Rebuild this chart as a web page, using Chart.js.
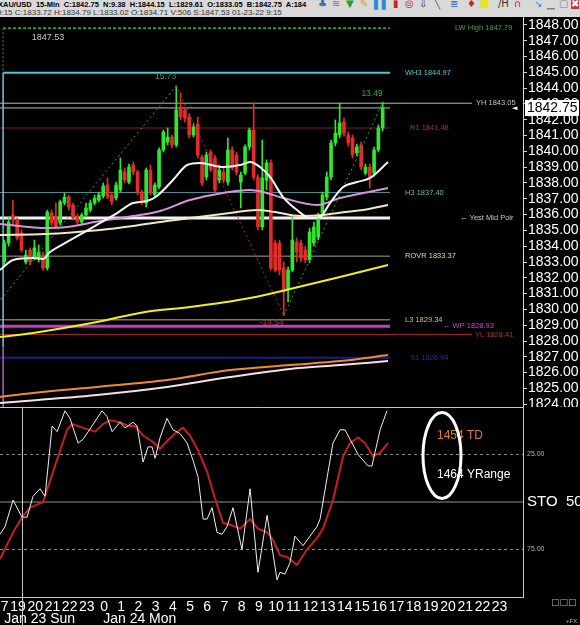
<!DOCTYPE html>
<html>
<head>
<meta charset="utf-8">
<script src="https://cdn.jsdelivr.net/npm/chart.js@4.4.1/dist/chart.umd.min.js"></script>
<style>
  html, body { margin: 0; padding: 0; background: #000; }
  body { width: 580px; height: 625px; overflow: hidden; position: relative; }
  #head { position: absolute; left: 0; top: 0; width: 580px; height: 17px; background: #d9d9d9; overflow: hidden; }
  #line1 { position: absolute; left: -2px; top: 0; font: bold 7.5px "Liberation Sans"; line-height: 9px; color: #000; white-space: nowrap; }
  #line2 { position: absolute; left: -3px; top: 9px; font: 8px "Liberation Sans"; line-height: 8px; color: #333; white-space: nowrap; }
  .ic { position: absolute; top: -2px; font: 10px "DejaVu Sans"; line-height: 11px; }
  #priceChart { position: absolute; left: 0; top: 17px; }
  #stoChart { position: absolute; left: 0; top: 407px; }
</style>
</head>
<body>
<div id="head">
  <div id="line1">XAU/USD&nbsp; 15-Min&nbsp; C:1842.75&nbsp; N:9.38&nbsp; H:1844.15&nbsp; L:1829.61&nbsp; O:1833.05&nbsp; B:1842.75&nbsp; A:184</div>
  <div id="line2">9:15 C:1833.72 H:1834.79 L:1833.02 O:1834.71 V:506 S:1847.53 01-23-22 9:15</div>
  <span class="ic" style="left:318px;color:#3a6ea5">&#9827;</span>
  <span class="ic" style="left:332px;color:#d04080">&#8779;</span>
  <span class="ic" style="left:346px;color:#2a9a2a">&#9660;</span>
  <span class="ic" style="left:360px;color:#e0a020">&#9998;</span>
  <span class="ic" style="left:374px;color:#2a8ad0">&#9612;&#9612;</span>
  <span class="ic" style="left:393px;color:#d02020">&#9646;</span>
  <span class="ic" style="left:405px;color:#c02020">&#9678;</span>
  <span class="ic" style="left:419px;color:#404040">&#8681;</span>
  <span class="ic" style="left:434px;color:#606060">&#9586;</span>
  <span class="ic" style="left:450px;color:#3060c0">&#8803;</span>
  <span class="ic" style="left:467px;color:#d02020">&#9830;</span>
  <span class="ic" style="left:480px;color:#e8e800">&#9632;</span>
  <span class="ic" style="left:498px;color:#303030">/H</span>
  <span class="ic" style="left:514px;color:#c02020">&#8745;</span>
  <span class="ic" style="left:534px;color:#3080d0">&#8600;</span>
  <span class="ic" style="left:547px;color:#808080">&#9601;</span>
  <span class="ic" style="left:559px;color:#808080">&#9634;</span>
  <span class="ic" style="left:571px;color:#fff;background:#d03030">&#10006;</span>
</div>
<canvas id="priceChart" width="580" height="390"></canvas>
<canvas id="stoChart" width="580" height="218"></canvas>
<script>
Chart.defaults.font.family = '"Liberation Sans", Arial, sans-serif';
Chart.defaults.color = '#ffffff';

// XAU/USD 15-min bars, Sun Jan 23 18:15 .. Mon Jan 24 16:15
var candleOpen = [1833.00,1834.20,1835.97,1835.66,1834.84,1833.00,1833.76,1833.25,1833.25,1833.44,
  1832.62,1836.10,1835.85,1835.47,1836.73,1837.11,1836.61,1835.85,1835.53,1835.97,
  1836.29,1836.73,1836.92,1837.18,1837.87,1837.24,1837.05,1837.56,1838.70,1838.06,
  1839.14,1838.70,1837.43,1836.73,1838.82,1837.24,1837.75,1840.09,1840.59,1840.91,
  1840.41,1842.81,1842.62,1842.18,1841.04,1841.73,1839.65,1838.38,1839.96,1839.58,
  1838.19,1838.70,1838.06,1840.09,1839.77,1838.06,1838.63,1840.28,1841.35,1838.38,
  1835.22,1838.19,1839.27,1834.20,1834.20,1832.62,1831.23,1832.49,1834.27,1834.20,
  1833.76,1833.13,1834.20,1834.58,1836.10,1837.11,1838.38,1840.53,1841.04,1841.86,
  1841.04,1840.85,1839.90,1840.41,1838.63,1839.01,1838.63,1840.09,1841.48];
var candleHigh = [1834.39,1835.85,1836.92,1835.78,1835.03,1833.76,1833.89,1834.39,1834.08,1833.63,
  1836.29,1836.29,1836.73,1836.92,1837.37,1837.24,1836.73,1836.04,1836.10,1836.73,
  1836.92,1837.24,1837.43,1838.00,1838.32,1837.43,1838.06,1839.58,1838.95,1839.20,
  1839.33,1838.82,1837.56,1838.95,1839.14,1838.00,1840.22,1841.35,1841.48,1841.04,
  1844.15,1843.70,1842.81,1842.37,1841.73,1842.18,1839.77,1839.96,1840.09,1839.77,
  1839.14,1838.95,1840.85,1840.28,1839.96,1838.70,1840.41,1841.48,1843.06,1838.51,
  1840.72,1839.46,1839.46,1834.39,1834.39,1833.00,1832.68,1835.85,1834.52,1834.39,
  1834.01,1835.15,1835.53,1836.10,1837.43,1838.70,1840.72,1841.99,1843.06,1842.11,
  1841.23,1841.04,1840.47,1840.59,1839.20,1839.20,1840.28,1841.67,1843.10];
var candleLow = [1832.75,1834.01,1835.34,1834.39,1833.63,1832.87,1832.81,1833.13,1833.00,1832.49,
  1832.49,1835.28,1835.09,1835.34,1836.61,1836.29,1835.66,1835.41,1835.41,1835.85,
  1836.16,1836.61,1836.80,1837.05,1836.99,1836.61,1836.92,1837.43,1838.00,1837.94,
  1838.51,1837.24,1836.61,1836.48,1837.24,1837.11,1837.62,1839.96,1840.41,1840.22,
  1840.28,1841.99,1841.86,1840.85,1840.91,1839.58,1837.81,1838.19,1838.70,1837.43,
  1838.00,1838.00,1837.87,1838.82,1838.51,1836.42,1838.51,1840.09,1838.19,1835.03,
  1835.03,1837.56,1832.49,1832.37,1832.18,1829.61,1830.47,1832.37,1833.00,1833.00,
  1832.94,1832.94,1834.01,1834.39,1835.85,1836.92,1838.19,1840.34,1840.85,1840.97,
  1840.34,1839.58,1839.71,1838.82,1838.51,1837.68,1838.44,1839.96,1841.29];
var candleClose = [1834.20,1835.53,1835.66,1834.52,1833.76,1833.44,1833.00,1833.89,1833.63,1832.62,
  1836.16,1835.47,1835.22,1836.80,1837.11,1836.48,1835.78,1835.53,1835.97,1836.42,
  1836.73,1837.05,1837.24,1837.81,1837.11,1836.80,1837.87,1838.82,1838.19,1839.01,
  1838.70,1837.43,1836.80,1838.82,1837.37,1837.87,1840.09,1841.23,1840.91,1840.41,
  1842.62,1842.18,1842.11,1841.04,1841.54,1839.77,1838.00,1839.77,1838.82,1837.56,
  1838.82,1838.19,1840.09,1838.95,1838.70,1838.51,1840.28,1841.35,1838.38,1835.22,
  1838.32,1839.27,1832.62,1832.49,1832.49,1831.10,1832.49,1834.39,1833.63,1833.25,
  1833.13,1834.90,1835.22,1835.85,1837.24,1838.38,1840.53,1841.16,1841.80,1841.16,
  1840.53,1839.77,1840.28,1839.01,1839.01,1838.38,1840.09,1841.48,1842.75];

// hours relative to Mon Jan 24 00:00
var firstBarHour = -5.8;
var barHours = candleOpen.map(function (v, i) { return firstBarHour + i * 0.25; });

// moving averages
var maFastHours = [-6.05,-5.29,-4.13,-3.55,-3.14,-2.15,-1.22,-0.23,0.76,1.69,2.50,3.08,4.01,4.83,5.58,6.92,7.91,8.49,9.07,9.65,10.41,11.22,11.98,12.56,13.14,13.90,14.71,15.47,16.51];
var maFast = [1832.49,1833.13,1833.25,1833.19,1833.63,1834.27,1834.84,1835.47,1836.10,1836.73,1836.86,1837.18,1838.19,1839.14,1839.27,1839.01,1839.14,1839.33,1839.01,1838.38,1837.11,1836.29,1835.78,1835.85,1836.73,1837.75,1838.06,1838.32,1839.33];
var maPinkHours = [-6.05,-3.55,-2.15,-0.23,1.69,3.26,5.0,6.92,8.49,9.24,10.41,12.38,13.72,15.06,16.51];
var maPink = [1835.41,1835.15,1835.22,1835.59,1835.91,1836.23,1836.92,1837.37,1837.56,1837.43,1837.05,1836.61,1837.05,1837.37,1837.68];
var maCreamHours = [-6.05,-3.43,-0.23,1.69,3.66,5.0,7.33,8.90,9.94,11.40,12.73,14.01,15.06,16.51];
var maCream = [1834.71,1834.77,1835.03,1835.28,1835.59,1835.78,1836.10,1836.29,1836.16,1835.91,1835.97,1836.16,1836.29,1836.61];
var maYellowHours = [-6.05,-4.13,-0.41,2.38,5.0,8.49,10.81,13.72,16.51];
var maYellow = [1828.25,1828.51,1829.20,1829.84,1830.15,1830.72,1831.29,1832.05,1832.81];
var maOrangeHours = [-6.05,-4.13,-0.41,3.66,7.33,10.81,13.72,16.51];
var maOrange = [1824.46,1824.71,1825.09,1825.53,1826.16,1826.48,1826.73,1827.11];
var maPaleHours = [-6.05,-0.41,3.66,7.33,10.81,13.72,16.51];
var maPale = [1824.08,1824.58,1825.09,1825.72,1826.23,1826.48,1826.73];

// swing zigzag
var zigHours = [-7.67, 4.2, 10.45, 16.2];
var zigPrices = [1828.42, 1844.15, 1829.61, 1843.10];

// pivot levels
var levelNames = ['LW High','WH3','YH','R1','H3','Yest Mid','ROVR','L3','WP','YL','S1'];
var levelValues = [1847.79,1844.97,1843.05,1841.48,1837.40,1835.78,1833.37,1829.34,1828.93,1828.41,1826.94];
var sessionS = 1847.53;

var priceTicks = [1824,1825,1826,1827,1828,1829,1830,1831,1832,1833,1834,1835,1836,1837,1838,1839,1840,1841,1842,1843,1844,1845,1846,1847,1848];

// stochastic
var stochKHours = [-6.05,-5.76,-5.29,-4.77,-4.48,-4.13,-3.72,-3.43,-3.02,-2.73,-2.27,-1.98,-1.51,-1.22,-0.70,-0.12,0.17,0.47,0.93,1.22,1.69,1.92,2.27,2.56,2.79,2.97,3.26,3.66,4.01,4.42,4.83,5.17,5.47,5.76,5.99,6.28,6.57,6.86,7.15,7.50,8.02,8.49,8.95,9.48,10.06,10.23,10.52,10.81,11.10,11.57,12.38,12.56,13.31,13.72,14.01,14.48,14.77,15.35,15.58,16.05,16.45];
var stochK = [67,63,49,58,58,47,43,47,10,13,2,6,19,17,10,2,5,13,8,11,8,10,29,21,21,27,16,6,12,14,19,28,37,59,59,53,66,67,63,53,75,43,87,57,91,87,88,82,68,73,63,59,19,12,12,20,25,31,31,12,2];
var stochDHours = [-6.05,-5.29,-4.77,-4.30,-3.55,-2.85,-2.15,-1.86,-1.22,-0.52,-0.06,0.35,0.93,1.40,1.80,2.27,2.79,3.26,3.66,4.24,4.59,5.00,5.47,5.99,6.45,6.92,7.33,7.91,8.49,8.95,9.48,9.83,10.23,10.64,11.22,11.80,12.38,12.73,13.31,13.90,14.30,14.77,15.17,15.64,16.05,16.51];
var stochD = [80,66,58,53,50,31,12,9,11,13,9,7,8,10,10,15,18,22,18,13,11,15,23,34,48,61,62,64,59,64,66,70,78,79,83,75,69,64,49,26,19,16,19,26,24,19];
var stoTicks = [25, 75];

// time axis
var xTickHours = [-6,-5,-4,-3,-2,-1,0,1,2,3,4,5,6,7,8,9,10,11,12,13,14,15,16,17,18,19,20,21,22,23];
var xTickLabels = ['17','19','20','21','22','23','0','1','2','3','4','5','6','7','8','9','10','11','12','13','14','15','16','17','18','19','20','21','22','23'];
var dayNames = ['Jan 23 Sun', 'Jan 24 Mon'];
var crossHour = -4.77;
var tdText = ['1454 TD', '1464 YRange'];

// ---- layout ----
var xMin = -6.05, xMax = 24.36;
var priceMin = 1823.823, priceMax = 1848.506;
var lineEnd = 16.63, farEnd = 21.4, edgeHour = -5.87;

var levelLook = {
  'LW High': { color: '#2f9f2f', width: 2, dash: [3, 2], from: edgeHour, to: lineEnd, tx: 455, tc: '#3aa83a' },
  'WH3': { color: '#52c6d6', width: 2, from: edgeHour, to: lineEnd, tx: 405, tc: '#52c6d6' },
  'YH': { color: '#c4b89c', width: 1, from: xMin, to: farEnd, tx: 476, tc: '#cfc3a5' },
  'R1': { color: '#8c1c1c', width: 1, from: xMin, to: lineEnd, tx: 410, tc: '#b03030' },
  'H3': { color: '#4f9294', width: 1, from: xMin, to: lineEnd, tx: 405, tc: '#6ab0b0' },
  'Yest Mid': { color: '#f2f2f2', width: 3, from: xMin, to: lineEnd, tx: 460, tc: '#c8c8c8', text: '\u2190 Yest Mid Poir' },
  'ROVR': { color: '#a8a48c', width: 1, from: xMin, to: lineEnd, tx: 405, tc: '#e0d8a8' },
  'L3': { color: '#c8aa8a', width: 1, from: xMin, to: lineEnd, tx: 405, tc: '#d4b896' },
  'WP': { color: '#c43cc4', width: 3, from: xMin, to: lineEnd, tx: 443, tc: '#c84ac8', prefix: '\u2190 ' },
  'YL': { color: '#a02828', width: 1, from: xMin, to: farEnd, tx: 475, tc: '#b83232' },
  'S1': { color: '#1c1c8a', width: 2, from: xMin, to: lineEnd, tx: 410, tc: '#2a2aa8' }
};

function pts(hours, vals) {
  return hours.map(function (h, i) { return { x: h, y: vals[i] }; });
}
function maSet(hours, vals, color, order) {
  return { type: 'line', data: pts(hours, vals), borderColor: color, borderWidth: 2, pointRadius: 0,
    tension: 0.4, cubicInterpolationMode: 'monotone', order: order };
}

var lastClose = candleClose[candleClose.length - 1];
var upColor = '#2ee82e', downColor = '#e32b2b';
var candleColors = candleOpen.map(function (o, i) { return candleClose[i] >= o ? upColor : downColor; });

var priceSets = [];
levelNames.forEach(function (name, i) {
  var look = levelLook[name];
  priceSets.push({ type: 'line', data: [{ x: look.from, y: levelValues[i] }, { x: look.to, y: levelValues[i] }],
    borderColor: look.color, borderWidth: look.width, borderDash: look.dash || [], pointRadius: 0, order: 20 });
});
priceSets.push({ type: 'line', data: [{ x: xMin, y: lastClose }, { x: lineEnd, y: lastClose }],
  borderColor: '#bdbdbd', borderWidth: 1, pointRadius: 0, order: 20 });
// left edge of the level boxes
priceSets.push({ type: 'line', data: [{ x: edgeHour, y: levelValues[0] }, { x: edgeHour, y: levelValues[1] }],
  borderColor: '#2f9f2f', borderWidth: 1, borderDash: [2, 2], pointRadius: 0, order: 19 });
priceSets.push({ type: 'line', data: [{ x: edgeHour, y: levelValues[1] }, { x: edgeHour, y: 1827.6 }],
  borderColor: '#6cc8e0', borderWidth: 1.5, pointRadius: 0, order: 19 });
priceSets.push({ type: 'line', data: [{ x: edgeHour, y: 1827.6 }, { x: edgeHour, y: priceMin }],
  borderColor: '#b060c8', borderWidth: 1.5, pointRadius: 0, order: 19 });
// candles: wick + body
priceSets.push({ type: 'bar', data: barHours.map(function (h, i) { return { x: h, y: [candleLow[i], candleHigh[i]] }; }),
  backgroundColor: candleColors, barThickness: 1, grouped: false, order: 10 });
priceSets.push({ type: 'bar', data: barHours.map(function (h, i) { return { x: h, y: [candleOpen[i], candleClose[i]] }; }),
  backgroundColor: candleColors, barThickness: 3, grouped: false, minBarLength: 1, order: 9 });
// zigzag
priceSets.push({ type: 'line', data: pts(zigHours, zigPrices), borderWidth: 1, borderDash: [2, 3], pointRadius: 0, order: 8,
  borderColor: '#3c9a3c',
  segment: { borderColor: function (c) { return c.p1.parsed.y > c.p0.parsed.y ? '#3c9a3c' : '#a83232'; } } });
// averages
priceSets.push(maSet(maPaleHours, maPale, '#f6dde6', 6));
priceSets.push(maSet(maOrangeHours, maOrange, '#f08c30', 5));
priceSets.push(maSet(maYellowHours, maYellow, '#f0f020', 4));
priceSets.push(maSet(maCreamHours, maCream, '#f2e8c2', 3));
priceSets.push(maSet(maPinkHours, maPink, '#d894d8', 2));
priceSets.push(maSet(maFastHours, maFast, '#f4f4f4', 1));

var priceNotes = {
  id: 'priceNotes',
  afterDatasetsDraw: function (chart) {
    var ctx = chart.ctx, x = chart.scales.x, y = chart.scales.y;
    ctx.save();
    ctx.textBaseline = 'middle';
    ctx.textAlign = 'left';
    ctx.font = '7.5px "Liberation Sans"';
    levelNames.forEach(function (name, i) {
      var look = levelLook[name];
      var txt = look.text || ((look.prefix || '') + name + ' ' + levelValues[i].toFixed(2));
      ctx.fillStyle = look.tc;
      ctx.fillText(txt, look.tx, y.getPixelForValue(levelValues[i]));
    });
    ctx.font = '8.5px "Liberation Sans"';
    ctx.textAlign = 'right';
    for (var i = 1; i < zigHours.length; i++) {
      var d = zigPrices[i] - zigPrices[i - 1];
      ctx.fillStyle = d > 0 ? '#3caa3c' : '#b03a3a';
      ctx.fillText(d.toFixed(2), x.getPixelForValue(zigHours[i]), y.getPixelForValue(zigPrices[i]) + (d > 0 ? -9 : 7));
    }
    ctx.textAlign = 'left';
    ctx.font = '9px "Liberation Sans"';
    ctx.fillStyle = '#c8c8c8';
    ctx.fillText(sessionS.toFixed(2), x.getPixelForValue(-4.2), y.getPixelForValue(1847.18));
    ctx.restore();
  },
  afterDraw: function (chart) {
    var ctx = chart.ctx, y = chart.scales.y, a = chart.chartArea;
    var cy = y.getPixelForValue(lastClose);
    ctx.save();
    ctx.fillStyle = '#ffffff';
    ctx.fillRect(a.right + 2, Math.round(cy) - 8, 54, 16);
    ctx.fillStyle = '#000000';
    ctx.font = '14px "Liberation Sans"';
    ctx.textBaseline = 'middle';
    ctx.textAlign = 'left';
    ctx.fillText(lastClose.toFixed(2), a.right + 4, cy);
    ctx.fillStyle = '#ffffff';
    ctx.font = '7px "DejaVu Sans"';
    ctx.fillText('\u25c4', a.right - 11, cy);
    ctx.restore();
  }
};

new Chart(document.getElementById('priceChart'), {
  type: 'bar',
  data: { datasets: priceSets },
  options: {
    responsive: false, animation: false, events: [],
    layout: { padding: 0 },
    plugins: { legend: { display: false }, tooltip: { enabled: false } },
    scales: {
      x: { type: 'linear', min: xMin, max: xMax, offset: false, display: false, grid: { offset: false } },
      y: {
        type: 'linear', position: 'right', min: priceMin, max: priceMax, beginAtZero: false,
        afterBuildTicks: function (s) { s.ticks = priceTicks.map(function (v) { return { value: v }; }); },
        afterFit: function (s) { s.width = 57; s.paddingTop = 0; s.paddingBottom = 0; },
        ticks: { color: '#ffffff', padding: 1, autoSkip: false, font: { size: 14 },
          callback: function (v) { return Number(v).toFixed(2); } },
        grid: { drawOnChartArea: false, drawTicks: true, tickLength: 4, color: '#d8d8d8' },
        border: { display: true, color: '#d8d8d8' }
      }
    }
  },
  plugins: [priceNotes]
});

var stoNotes = {
  id: 'stoNotes',
  afterDraw: function (chart) {
    var ctx = chart.ctx, x = chart.scales.x, y = chart.scales.y, a = chart.chartArea;
    ctx.save();
    ctx.strokeStyle = '#c8c8c8';
    ctx.lineWidth = 1;
    ctx.beginPath(); ctx.moveTo(0, 0.5); ctx.lineTo(a.right, 0.5); ctx.stroke();
    var cx = Math.round(x.getPixelForValue(crossHour)) + 0.5;
    ctx.beginPath(); ctx.moveTo(cx, 0); ctx.lineTo(cx, chart.height); ctx.stroke();

    ctx.textBaseline = 'middle';
    ctx.textAlign = 'left';
    ctx.fillStyle = '#ffffff';
    ctx.font = '15px "Liberation Sans"';
    ctx.fillText('STO  50,', a.right + 4, y.getPixelForValue(50));

    ctx.font = '14px "Liberation Sans"';
    ctx.fillText(dayNames[0], x.getPixelForValue(-5.8), a.bottom + 22);
    ctx.fillText(dayNames[1], x.getPixelForValue(-0.05), a.bottom + 22);

    var ex = x.getPixelForValue(19.65), ey = y.getPixelForValue(25.5);
    ctx.font = '12px "Liberation Sans"';
    ctx.fillStyle = '#e07a30';
    ctx.fillText(tdText[0], ex - 5, y.getPixelForValue(15));
    ctx.fillStyle = '#ffffff';
    ctx.fillText(tdText[1], ex - 5, y.getPixelForValue(35.5));
    ctx.strokeStyle = '#ffffff';
    ctx.lineWidth = 3;
    ctx.beginPath(); ctx.ellipse(ex, ey, 19, 43, 0, 0, Math.PI * 2); ctx.stroke();

    ctx.fillStyle = '#b8b8b8';
    ctx.font = '9px "DejaVu Sans"';
    ctx.fillText('\u25a1\u25a1\u25a1', a.right + 28, a.bottom + 6);
    ctx.font = '6px "Liberation Sans"';
    ctx.fillText('+FX', a.right + 43, chart.height - 4);
    ctx.restore();
  }
};

function flatLine(v, color, dash) {
  return { data: [{ x: xMin, y: v }, { x: xMax, y: v }], borderColor: color, borderWidth: 1,
    borderDash: dash, pointRadius: 0, order: 10 };
}

new Chart(document.getElementById('stoChart'), {
  type: 'line',
  data: {
    datasets: [
      flatLine(25, '#8a8a8a', [3, 3]),
      flatLine(50, '#8a9a80', []),
      flatLine(75, '#8a8a8a', [3, 3]),
      { data: pts(stochDHours, stochD), borderColor: '#c81e1e', borderWidth: 2, pointRadius: 0, order: 2 },
      { data: pts(stochKHours, stochK), borderColor: '#f0f0f0', borderWidth: 1, pointRadius: 0, order: 1 }
    ]
  },
  options: {
    responsive: false, animation: false, events: [],
    layout: { padding: 0 },
    plugins: { legend: { display: false }, tooltip: { enabled: false } },
    scales: {
      x: {
        type: 'linear', min: xMin, max: xMax, offset: false,
        afterBuildTicks: function (s) { s.ticks = xTickHours.map(function (v) { return { value: v }; }); },
        afterFit: function (s) { s.height = 28; s.paddingLeft = 0; s.paddingRight = 0; },
        ticks: { color: '#ffffff', padding: 2, autoSkip: false, maxRotation: 0, font: { size: 14 },
          callback: function (v, i) { return xTickLabels[i]; } },
        grid: { display: false, drawTicks: false },
        border: { display: true, color: '#c8c8c8' }
      },
      y: {
        type: 'linear', position: 'right', reverse: true, min: 0, max: 100,
        afterBuildTicks: function (s) { s.ticks = stoTicks.map(function (v) { return { value: v }; }); },
        afterFit: function (s) { s.width = 57; s.paddingTop = 0; s.paddingBottom = 0; },
        ticks: { color: '#b0b0b0', padding: 4, autoSkip: false, font: { size: 7 },
          callback: function (v) { return Number(v).toFixed(2); } },
        grid: { display: false, drawTicks: false },
        border: { display: true, color: '#c8c8c8' }
      }
    }
  },
  plugins: [stoNotes]
});
</script>
</body>
</html>
